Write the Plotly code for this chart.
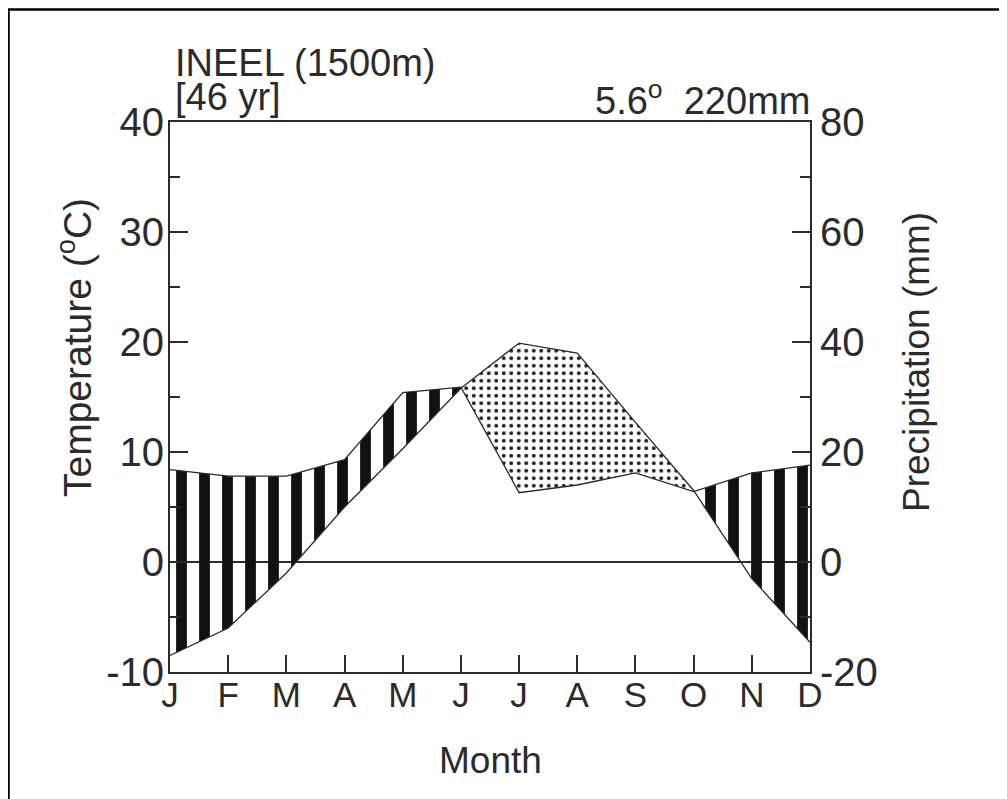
import plotly.graph_objects as go

# ---------------- data ----------------
months = ["J", "F", "M", "A", "M", "J", "J", "A", "S", "O", "N", "D"]
temp_c = [-8.5, -6.0, -1.0, 5.0, 10.3, 15.8, 19.9, 19.0, 12.7, 6.5, -1.5, -7.3]
precip_mm = [16.8, 15.6, 15.6, 18.6, 30.8, 31.8, 12.6, 14.0, 16.2, 12.8, 16.2, 17.6]
temp_ticks = [-10, 0, 10, 20, 30, 40]
temp_tick_labels = ["-10", "0", "10", "20", "30", "40"]
precip_ticks = [-20, 0, 20, 40, 60, 80]
precip_tick_labels = ["-20", "0", "20", "40", "60", "80"]
station_label = "INEEL (1500m)"
record_label = "[46 yr]"
summary_label = "5.6<sup>o</sup>  220mm"
x_title = "Month"
y_title = "Temperature (<sup>o</sup>C)"
y2_title = "Precipitation (mm)"

# ---------------- layout geometry (page pixels) ----------------
OFF = 8                      # default body margin of the html page
W, H = 1007 - OFF, 799 - OFF
PL, PR, PT, PB = 170, 810, 122, 672   # plot area in page pixels
L, R, T, B = PL - OFF, PR - OFF, PT - OFF, PB - OFF
FONT = "Liberation Sans, Arial, Helvetica, sans-serif"
INK = "#2b2b2b"


def px_x(px):
    return (px - OFF - L) / (R - L)


def px_y(py):
    return (B - (py - OFF)) / (B - T)


# precipitation expressed on the temperature scale (10 degC = 20 mm)
ratio = (precip_ticks[-1] - precip_ticks[0]) / (temp_ticks[-1] - temp_ticks[0])
p_scaled = [p / ratio for p in precip_mm]
xm = list(range(len(months)))

# insert crossing points so the humid / arid fills meet exactly
xs, ts, ps = [], [], []
for i in range(len(xm)):
    xs.append(xm[i]); ts.append(temp_c[i]); ps.append(p_scaled[i])
    if i < len(xm) - 1:
        d0 = p_scaled[i] - temp_c[i]
        d1 = p_scaled[i + 1] - temp_c[i + 1]
        if d0 * d1 < 0:
            f = d0 / (d0 - d1)
            xs.append(xm[i] + f)
            ts.append(temp_c[i] + f * (temp_c[i + 1] - temp_c[i]))
            ps.append(p_scaled[i] + f * (p_scaled[i + 1] - p_scaled[i]))
upper = [max(a, b) for a, b in zip(ts, ps)]

fig = go.Figure()
# humid period: vertical stripes between temperature and precipitation
fig.add_trace(go.Scatter(x=xs, y=ts, mode="lines", line=dict(width=0),
                         hoverinfo="skip", showlegend=False))
fig.add_trace(go.Scatter(x=xs, y=upper, mode="lines", line=dict(width=0),
                         fill="tonexty", fillcolor="#111111",
                         fillpattern=dict(shape="|", size=23, solidity=0.47,
                                          fgcolor="#111111", fgopacity=1,
                                          bgcolor="rgba(255,255,255,0)", fillmode="replace"),
                         hoverinfo="skip", showlegend=False))
# arid period: dots
fig.add_trace(go.Scatter(x=xs, y=ps, mode="lines", line=dict(width=0),
                         hoverinfo="skip", showlegend=False))
fig.add_trace(go.Scatter(x=xs, y=upper, mode="lines", line=dict(width=0),
                         fill="tonexty", fillcolor="#111111",
                         fillpattern=dict(shape=".", size=7.5, solidity=0.22,
                                          fgcolor="#1a1a1a", fgopacity=1,
                                          bgcolor="rgba(255,255,255,0)", fillmode="replace"),
                         hoverinfo="skip", showlegend=False))
# curves
fig.add_trace(go.Scatter(x=xm, y=temp_c, mode="lines",
                         line=dict(color=INK, width=1.3), showlegend=False))
fig.add_trace(go.Scatter(x=xm, y=precip_mm, mode="lines", yaxis="y2",
                         line=dict(color=INK, width=1.3), showlegend=False))


def mids(v):
    return [(a + b) / 2 for a, b in zip(v[:-1], v[1:])]


ytickfont = dict(family=FONT, size=40, color=INK)
xtickfont = dict(family=FONT, size=35, color=INK)
fig.update_layout(
    width=W, height=H,
    margin=dict(l=L, r=W - R, t=T, b=H - B, pad=0),
    paper_bgcolor="white", plot_bgcolor="white",
    font=dict(family=FONT, color=INK),
    xaxis=dict(range=[xm[0], xm[-1]], tickmode="array", tickvals=xm, ticktext=months,
               ticks="inside", ticklen=17, tickwidth=1.5, tickcolor=INK,
               ticklabelstandoff=-9,
               showline=True, linecolor=INK, linewidth=2, mirror=True,
               showgrid=False, zeroline=False, tickfont=xtickfont),
    yaxis=dict(range=[temp_ticks[0], temp_ticks[-1]], tickmode="array",
               tickvals=temp_ticks, ticktext=temp_tick_labels,
               ticks="inside", ticklen=18, tickwidth=1.5, tickcolor=INK,
               ticklabelstandoff=-4,
               minor=dict(tickvals=mids(temp_ticks), ticks="inside", ticklen=10,
                          tickwidth=1.5, tickcolor=INK),
               showline=True, linecolor=INK, linewidth=2,
               showgrid=False, zeroline=True, zerolinecolor=INK, zerolinewidth=1.5,
               tickfont=ytickfont),
    yaxis2=dict(range=[precip_ticks[0], precip_ticks[-1]], overlaying="y", side="right",
                tickmode="array", tickvals=precip_ticks, ticktext=precip_tick_labels,
                ticks="inside", ticklen=18, tickwidth=1.5, tickcolor=INK,
                minor=dict(tickvals=mids(precip_ticks), ticks="inside", ticklen=10,
                           tickwidth=1.5, tickcolor=INK),
                showline=True, linecolor=INK, linewidth=2,
                showgrid=False, zeroline=False, tickfont=ytickfont),
)

ann_font = dict(family=FONT, size=37, color=INK)
big_font = dict(family=FONT, size=38, color=INK)
fig.add_annotation(text=station_label, xref="paper", yref="paper", x=px_x(173), y=px_y(63),
                   xanchor="left", yanchor="middle", showarrow=False, font=big_font)
fig.add_annotation(text=record_label, xref="paper", yref="paper", x=px_x(173), y=px_y(97),
                   xanchor="left", yanchor="middle", showarrow=False, font=big_font)
fig.add_annotation(text=summary_label, xref="paper", yref="paper", x=px_x(812), y=px_y(98),
                   xanchor="right", yanchor="middle", showarrow=False, font=big_font)
fig.add_annotation(text=x_title, xref="paper", yref="paper", x=px_x(490), y=px_y(760),
                   xanchor="center", yanchor="middle", showarrow=False, font=ann_font)
fig.add_annotation(text=y_title, xref="paper", yref="paper", x=px_x(74), y=px_y(348),
                   xanchor="center", yanchor="middle", showarrow=False,
                   font=dict(family=FONT, size=39, color=INK), textangle=-90)
fig.add_annotation(text=y2_title, xref="paper", yref="paper", x=px_x(916), y=px_y(362),
                   xanchor="center", yanchor="middle", showarrow=False, font=ann_font,
                   textangle=-90)

# outer frame (only top and left edges visible in the image)
fig.add_shape(type="rect", xref="paper", yref="paper",
              x0=px_x(8.5), x1=px_x(1300), y0=px_y(1200), y1=px_y(9.5),
              line=dict(color="black", width=2.5), fillcolor="rgba(0,0,0,0)", layer="above")

fig.write_html("out.html")
